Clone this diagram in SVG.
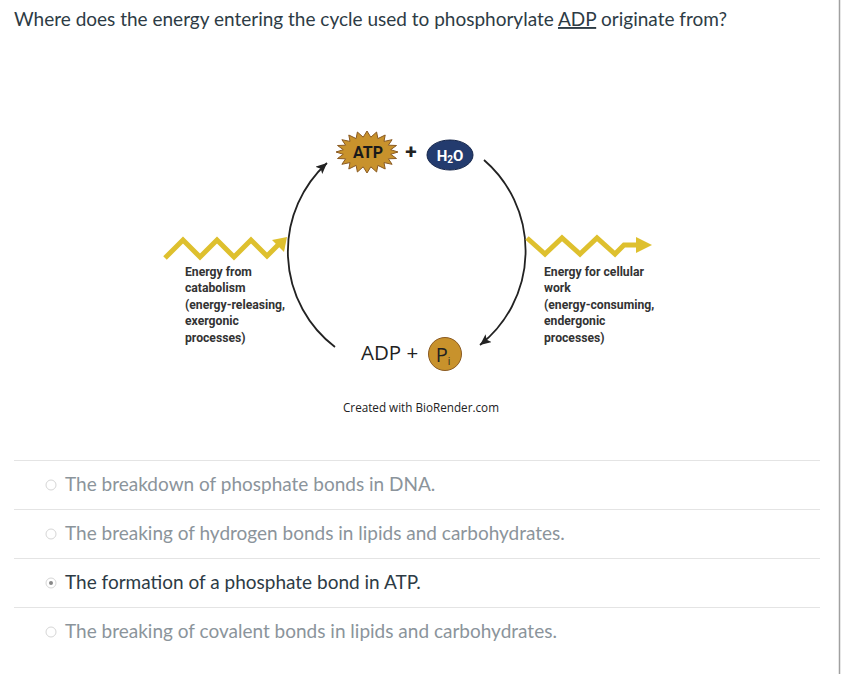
<svg xmlns="http://www.w3.org/2000/svg" width="841" height="674" viewBox="0 0 841 674">
<defs>
<marker id="arr" markerUnits="userSpaceOnUse" markerWidth="14" markerHeight="12" refX="11" refY="5" orient="auto">
<path d="M0,0 L11,5 L0,10 L2.5,5 z" fill="#222"/>
</marker>
<style>
.q{font-family:Lato,"Open Sans",sans-serif;font-size:19px;fill:#2d3b45}
.opt{font-family:Lato,"Open Sans",sans-serif;font-size:19px;fill:#8b949b}
.sel{fill:#2d3b45}
.lab{font-family:Roboto,"Liberation Sans",sans-serif;font-size:12.2px;font-weight:bold;fill:#333}
.sep{stroke:#e4e4e4;stroke-width:1}
.cyc{fill:none;stroke:#222;stroke-width:1.8;marker-end:url(#arr)}
.zig{fill:none;stroke:#DEC02E;stroke-width:5;stroke-linejoin:miter}
.radio{fill:#fff;stroke:#d6d6d6;stroke-width:1}
</style>
</defs>
<rect width="841" height="674" fill="#fff"/>
<line x1="839.5" y1="0" x2="839.5" y2="674" stroke="#a0a0a0" stroke-width="1.5"/>

<g id="question">
<text class="q" x="14" y="26">Where does the energy entering the cycle used to phosphorylate <tspan text-decoration="underline">ADP</tspan> originate from?</text>
</g>

<g id="connectors">
<path class="cyc" d="M335,347 A120,120 0 0 1 327,163"/>
<path class="cyc" d="M484,160 A120,120 0 0 1 480,345"/>
</g>

<g id="atp">
<polygon fill="#C8922C" stroke="#8a5a22" stroke-width="1" points="398,152 390.7,154.3 396.5,158.5 388.4,158.8 392.1,164.3 384,162.6 385.2,169 377.9,165.4 376.6,172 370.8,166.8 367,173 363.2,166.8 357.4,172 356.1,165.4 348.8,169 350,162.6 341.9,164.3 345.6,158.8 337.5,158.5 343.3,154.3 336,152 343.3,149.7 337.5,145.5 345.6,145.2 341.9,139.7 350,141.4 348.8,135 356.1,138.6 357.4,132 363.2,137.2 367,131 370.8,137.2 376.6,132 377.9,138.6 385.2,135 384,141.4 392.1,139.7 388.4,145.2 396.5,145.5 390.7,149.7"/>
<text x="368" y="158" text-anchor="middle" font-family="Roboto,'Liberation Sans',sans-serif" font-size="16" font-weight="bold" fill="#1a1a1a">ATP</text>
</g>
<g id="plus1">
<text x="411" y="159" text-anchor="middle" font-family="Roboto,'Liberation Sans',sans-serif" font-size="21" font-weight="bold" fill="#222">+</text>
</g>
<g id="h2o">
<ellipse cx="450" cy="155" rx="23" ry="15" fill="#233b6e" stroke="#15254a" stroke-width="1"/>
<text x="450" y="160.5" text-anchor="middle" font-family="Roboto,'Liberation Sans',sans-serif" font-size="15" font-weight="bold" fill="#fff">H<tspan font-size="10" dy="2">2</tspan><tspan dy="-2">O</tspan></text>
</g>

<g id="energy-in">
<polyline class="zig" points="165,258 183,240 200,257 217,240 234,257 251,240 267,256 279,244"/>
<polygon points="287,237 284,252 272,240" fill="#DEC02E"/>
<text class="lab" x="185" y="276">Energy from</text>
<text class="lab" x="185" y="292">catabolism</text>
<text class="lab" x="185" y="309">(energy-releasing,</text>
<text class="lab" x="185" y="325">exergonic</text>
<text class="lab" x="185" y="342">processes)</text>
</g>

<g id="energy-out">
<polyline class="zig" points="527,238 545,254 562,238 580,254 597,238 615,254 624,245 638,245"/>
<polygon points="652,245 636,237 636,253" fill="#DEC02E"/>
<text class="lab" x="544" y="276">Energy for cellular</text>
<text class="lab" x="544" y="292">work</text>
<text class="lab" x="544" y="309">(energy-consuming,</text>
<text class="lab" x="544" y="325">endergonic</text>
<text class="lab" x="544" y="342">processes)</text>
</g>

<g id="adp">
<text x="361" y="360" font-family="'Open Sans',sans-serif" font-size="20.5" fill="#222">ADP +</text>
</g>
<g id="pi">
<circle cx="445" cy="354" r="16.5" fill="#C8922C" stroke="#8a5a22" stroke-width="1"/>
<text x="443" y="361.5" text-anchor="middle" font-family="'Open Sans',sans-serif" font-size="20" fill="#222">P<tspan font-size="10" dy="3">i</tspan></text>
</g>

<g id="credit">
<text x="421" y="412" text-anchor="middle" font-family="'Open Sans',sans-serif" font-size="11.7" fill="#222">Created with BioRender.com</text>
</g>

<g id="options">
<line class="sep" x1="14" y1="460.5" x2="820" y2="460.5"/>
<line class="sep" x1="14" y1="509.5" x2="820" y2="509.5"/>
<line class="sep" x1="14" y1="558.5" x2="820" y2="558.5"/>
<line class="sep" x1="14" y1="607.5" x2="820" y2="607.5"/>
<circle class="radio" cx="51" cy="485" r="5"/>
<text class="opt" x="65" y="491">The breakdown of phosphate bonds in DNA.</text>
<circle class="radio" cx="51" cy="534" r="5"/>
<text class="opt" x="65" y="540">The breaking of hydrogen bonds in lipids and carbohydrates.</text>
<circle class="radio" cx="51" cy="583" r="5" stroke="#bbb"/>
<circle cx="51" cy="583" r="2" fill="#888"/>
<text class="opt sel" x="65" y="589">The formation of a phosphate bond in ATP.</text>
<circle class="radio" cx="51" cy="632" r="5"/>
<text class="opt" x="65" y="638">The breaking of covalent bonds in lipids and carbohydrates.</text>
</g>
</svg>
